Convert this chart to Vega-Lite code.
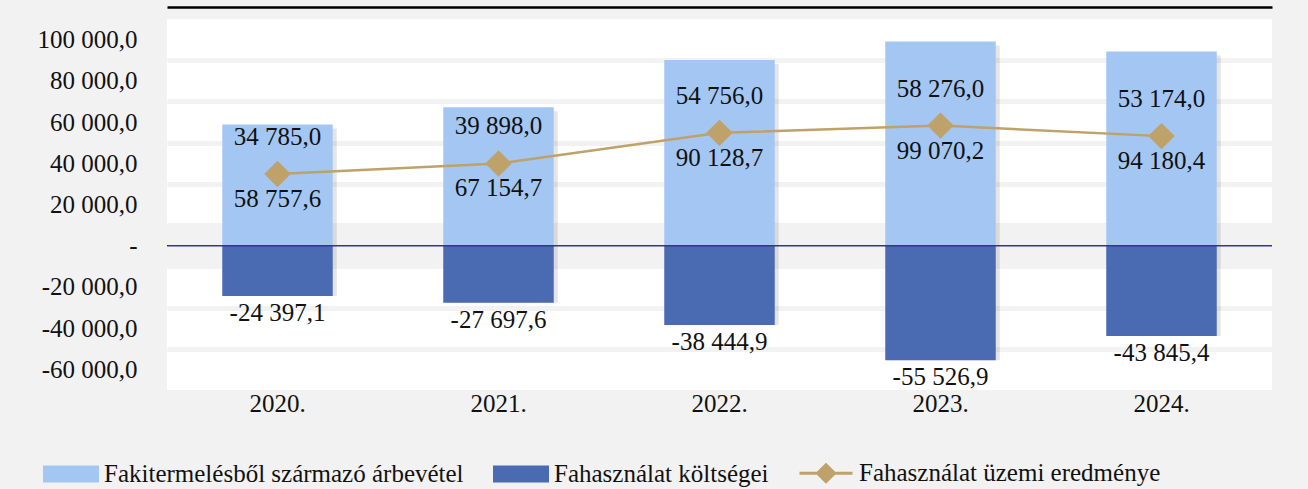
{
  "$schema": "https://vega.github.io/schema/vega-lite/v6.json",
  "width": 1105,
  "height": 371,
  "autosize": {"type": "none"},
  "padding": {"left": 167, "top": 19, "right": 36, "bottom": 99},
  "background": "#f2f2f2",
  "config": {
    "locale": {"number": {"decimal": ",", "thousands": " ", "grouping": [3], "currency": ["", ""], "minus": "-"}},
    "view": {"fill": "white", "stroke": null},
    "font": "Liberation Serif",
    "text": {"font": "Liberation Serif", "fontSize": 25, "color": "#111111"},
    "axis": {"labelFont": "Liberation Serif", "labelFontSize": 25, "labelColor": "#111111"}
  },
  "data": {
    "values": [
      {"ev": "2020.", "Fakitermelésből származó árbevétel": 58757.6, "Fahasználat költségei": -24397.1, "Fahasználat üzemi eredménye": 34785.0},
      {"ev": "2021.", "Fakitermelésből származó árbevétel": 67154.7, "Fahasználat költségei": -27697.6, "Fahasználat üzemi eredménye": 39898.0},
      {"ev": "2022.", "Fakitermelésből származó árbevétel": 90128.7, "Fahasználat költségei": -38444.9, "Fahasználat üzemi eredménye": 54756.0},
      {"ev": "2023.", "Fakitermelésből származó árbevétel": 99070.2, "Fahasználat költségei": -55526.9, "Fahasználat üzemi eredménye": 58276.0},
      {"ev": "2024.", "Fakitermelésből származó árbevétel": 94180.4, "Fahasználat költségei": -43845.4, "Fahasználat üzemi eredménye": 53174.0}
    ]
  },
  "layer": [
    {
      "data": {"values": [{"a": 1}]},
      "mark": {"type": "rect", "color": "#f2f2f2"},
      "encoding": {
        "y": {
          "datum": -10000, "type": "quantitative",
          "scale": {"domain": [-70000, 110000], "nice": false, "zero": false},
          "axis": {"orient": "right", "grid": true, "gridColor": "#f2f2f2", "gridWidth": 5, "gridOpacity": 1,
                   "values": [90000, 70000, 50000, 30000, 10000, -10000, -30000, -50000],
                   "labels": false, "ticks": false, "domain": false, "title": null}
        },
        "y2": {"datum": 10000}
      }
    },
    {
      "mark": {"type": "bar", "color": "#000000", "opacity": 0.1, "xOffset": 4, "yOffset": 4},
      "encoding": {
        "x": {"field": "ev", "type": "nominal", "axis": null},
        "y": {"field": "Fakitermelésből származó árbevétel", "type": "quantitative", "axis": null},
        "y2": {"field": "Fahasználat költségei"}
      }
    },
    {
      "transform": [{"fold": ["Fakitermelésből származó árbevétel", "Fahasználat költségei"], "as": ["sorozat", "ertek"]}],
      "mark": {"type": "bar"},
      "encoding": {
        "x": {
          "field": "ev", "type": "nominal",
          "scale": {"paddingInner": 0.5, "paddingOuter": 0.25},
          "axis": {"orient": "bottom", "title": null, "labelAngle": 0, "ticks": false, "domain": false, "labelPadding": 1, "grid": false}
        },
        "y": {
          "field": "ertek", "type": "quantitative", "stack": null,
          "scale": {"domain": [-70000, 110000], "nice": false, "zero": false},
          "axis": {"orient": "left", "title": null, "values": [-60000, -40000, -20000, 0, 20000, 40000, 60000, 80000, 100000],
                   "grid": false, "ticks": false, "domain": false, "labelPadding": 30, "format": ",.1f",
                   "labelExpr": "datum.value === 0 ? '-' : datum.label"}
        },
        "color": {
          "field": "sorozat", "type": "nominal",
          "scale": {
            "domain": ["Fakitermelésből származó árbevétel", "Fahasználat költségei", "Fahasználat üzemi eredménye"],
            "range": ["#a3c7f2", "#4a6ab2", "#bfa16a"]
          },
          "legend": {
            "orient": "none", "legendX": -124, "legendY": 426, "direction": "horizontal", "title": null,
            "symbolSize": 2809, "labelFontSize": 25, "labelFont": "Liberation Serif", "labelColor": "#111111",
            "labelOffset": 5, "columnPadding": 24, "padding": 0, "labelLimit": 0,
            "encode": {
              "symbols": {
                "update": {
                  "shape": {"signal": "datum.value === 'Fahasználat üzemi eredménye' ? 'M-1,0H1M0,-0.32L0.32,0L0,0.32L-0.32,0Z' : 'M-1,-0.26H1V0.26H-1Z'"},
                  "fill": {"signal": "scale('color', datum.value)"},
                  "stroke": {"signal": "datum.value === 'Fahasználat üzemi eredménye' ? scale('color', datum.value) : 'transparent'"},
                  "strokeWidth": {"value": 3},
                  "opacity": {"value": 1}
                }
              }
            }
          }
        }
      }
    },
    {
      "data": {"values": [{"a": 1}]},
      "mark": {"type": "rule", "color": "#333399", "strokeWidth": 1.5},
      "encoding": {"y": {"datum": 0, "type": "quantitative", "axis": null}}
    },
    {
      "mark": {"type": "line", "strokeWidth": 2.5, "point": {"shape": "diamond", "size": 700, "filled": true, "opacity": 1}},
      "encoding": {
        "x": {"field": "ev", "type": "nominal",
              "axis": {"orient": "top", "title": null, "labels": false, "ticks": false, "domain": true, "domainColor": "#000000", "domainWidth": 2.5, "offset": 12, "grid": false}},
        "y": {"field": "Fahasználat üzemi eredménye", "type": "quantitative", "axis": null},
        "color": {"datum": "Fahasználat üzemi eredménye"}
      }
    },
    {
      "mark": {"type": "text", "dy": -37},
      "encoding": {
        "x": {"field": "ev", "type": "nominal", "axis": null},
        "y": {"field": "Fahasználat üzemi eredménye", "type": "quantitative", "axis": null},
        "text": {"field": "Fahasználat üzemi eredménye", "type": "quantitative", "format": ",.1f"}
      }
    },
    {
      "mark": {"type": "text", "dy": 25},
      "encoding": {
        "x": {"field": "ev", "type": "nominal", "axis": null},
        "y": {"field": "Fahasználat üzemi eredménye", "type": "quantitative", "axis": null},
        "text": {"field": "Fakitermelésből származó árbevétel", "type": "quantitative", "format": ",.1f"}
      }
    },
    {
      "mark": {"type": "text", "dy": 17},
      "encoding": {
        "x": {"field": "ev", "type": "nominal", "axis": null},
        "y": {"field": "Fahasználat költségei", "type": "quantitative", "axis": null},
        "text": {"field": "Fahasználat költségei", "type": "quantitative", "format": ",.1f"}
      }
    }
  ],
  "resolve": {"axis": {"x": "independent", "y": "independent"}}
}
